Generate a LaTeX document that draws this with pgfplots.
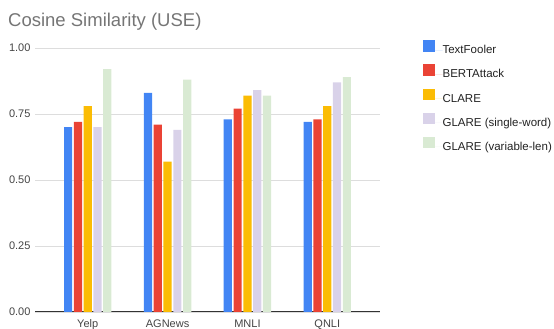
\documentclass[border=0pt]{standalone}
\usepackage{pgfplots}
\pgfplotsset{compat=1.18}
\usepackage{fontspec}
\setmainfont{Liberation Sans}
\definecolor{cblue}{HTML}{4285F4}
\definecolor{cred}{HTML}{EA4335}
\definecolor{cyellow}{HTML}{FBBC04}
\definecolor{clav}{HTML}{D9D2E9}
\definecolor{cgreen}{HTML}{D9EAD3}
\definecolor{ctitle}{HTML}{757575}
\definecolor{ctick}{HTML}{444444}
\definecolor{clegend}{HTML}{222222}
\definecolor{cgrid}{HTML}{DDDDDD}
\definecolor{cbase}{HTML}{333333}
\begin{document}
\begin{tikzpicture}
\path[use as bounding box] (0pt,0pt) rectangle (554pt,329pt);
\node[anchor=base west, inner sep=0pt, text=ctitle, font=\fontsize{18.5}{20}\selectfont] at (8pt,302.5pt) {Cosine Similarity (USE)};
\begin{axis}[
  at={(35pt,17pt)}, anchor=south west,
  scale only axis, width=345pt, height=264pt,
  ybar=1.6pt, bar width=8.2pt,
  xmin=-0.66, xmax=3.66, ymin=0, ymax=1,
  enlargelimits=false,
  xtick={0,1,2,3},
  xticklabels={Yelp,AGNews,MNLI,QNLI},
  ytick={0,0.25,0.5,0.75,1},
  /pgf/number format/fixed, /pgf/number format/fixed zerofill, /pgf/number format/precision=2, /pgf/number format/assume math mode=true,
  ymajorgrids, grid style={color=cgrid, line width=0.8pt},
  major tick length=0pt,
  axis lines*=left,
  x axis line style={color=cbase, line width=1pt},
  y axis line style={draw=none},
  tick label style={font=\fontsize{11}{12}\selectfont, text=ctick},
  xticklabel style={yshift=-4pt},
  yticklabel style={xshift=-1pt},
  legend cell align=left,
  legend style={at={(1.124,1.03)}, anchor=north west, draw=none, fill=none,
    inner sep=0pt, row sep=8.2pt, column sep=0pt,
    font=\fontsize{11.5}{12}\selectfont, text=clegend,
    nodes={inner sep=0pt, text height=9.8pt, text depth=2.5pt}},
  legend image code/.code={\fill[#1,draw=none] (0pt,-1.7pt) rectangle (11.6pt,9.8pt); \path (0pt,0pt) -- (19.6pt,0pt);},
]
\addplot[fill=cblue, draw=none] coordinates {(0,0.70) (1,0.83) (2,0.73) (3,0.72)};
\addplot[fill=cred, draw=none] coordinates {(0,0.72) (1,0.71) (2,0.77) (3,0.73)};
\addplot[fill=cyellow, draw=none] coordinates {(0,0.78) (1,0.57) (2,0.82) (3,0.78)};
\addplot[fill=clav, draw=none] coordinates {(0,0.70) (1,0.69) (2,0.84) (3,0.87)};
\addplot[fill=cgreen, draw=none] coordinates {(0,0.92) (1,0.88) (2,0.82) (3,0.89)};
\legend{TextFooler, BERTAttack, CLARE, GLARE (single-word), GLARE (variable-len)}
\end{axis}
\end{tikzpicture}
\end{document}
